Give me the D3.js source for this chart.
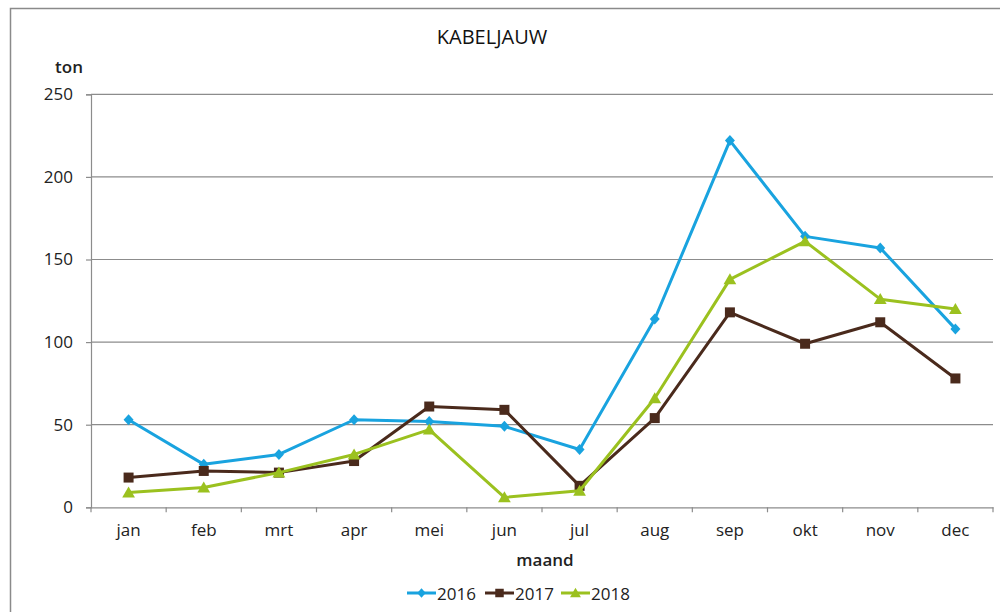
<!DOCTYPE html>
<html><head><meta charset="utf-8">
<script src="https://cdn.jsdelivr.net/npm/d3@7"></script>
<style>
html,body{margin:0;padding:0;background:#fff;}
svg{display:block;font-family:"Open Sans","Noto Sans",sans-serif;}
</style></head>
<body><svg id="c" width="1000" height="612"></svg>
<script>
const months = ["jan","feb","mrt","apr","mei","jun","jul","aug","sep","okt","nov","dec"];
const s2016 = [53,26,32,53,52,49,35,114,222,164,157,108];
const s2017 = [18,22,21,28,61,59,13,54,118,99,112,78];
const s2018 = [9,12,21,32,47,6,10,66,138,161,126,120];
const yTicks = [0,50,100,150,200,250];
const seriesNames = ["2016","2017","2018"];
const seriesColors = ["#19a3df","#4a2a1c","#9bc11f"];
const seriesShapes = ["diamond","square","triangle"];
const seriesData = [s2016,s2017,s2018];

const svg = d3.select("#c");
const L = 91, R = 993, T = 94.3, B = 507.3;

// frame
svg.append("path").attr("d",`M10.5,612 V8.5 H1000`).attr("fill","none").attr("stroke","#8a8a8a").attr("stroke-width",1.5);

const x = d3.scaleBand().domain(months).range([L,R]);
const y = d3.scaleLinear().domain([0,250]).range([B,T]);

// gridlines
svg.append("g").selectAll("line").data(yTicks.filter(d=>d>0)).join("line")
  .attr("x1",L).attr("x2",R).attr("y1",d=>y(d)).attr("y2",d=>y(d))
  .attr("stroke","#8c8c8c").attr("stroke-width",1.2);

// y axis
const ya = svg.append("g").attr("transform",`translate(${L},0)`)
  .call(d3.axisLeft(y).tickValues(yTicks).tickSize(5).tickPadding(13));
ya.select(".domain").attr("stroke","#8c8c8c").attr("stroke-width",1.2);
ya.selectAll(".tick line").attr("stroke","#8c8c8c").attr("stroke-width",1.2);
ya.selectAll("text").attr("font-size",17).attr("fill","#222").attr("font-family","Open Sans");

// x axis
const xa = svg.append("g").attr("transform",`translate(0,${B})`)
  .call(d3.axisBottom(x).tickSize(0).tickPadding(17));
xa.select(".domain").attr("stroke","#8c8c8c").attr("stroke-width",1.2);
xa.selectAll("text").attr("font-size",17).attr("fill","#222").attr("font-family","Open Sans");
// category boundary ticks
const bounds = months.map(m=>x(m)).concat([x(months[months.length-1])+x.bandwidth()]);
svg.append("g").selectAll("line").data(bounds).join("line")
  .attr("x1",d=>d).attr("x2",d=>d)
  .attr("y1",B).attr("y2",B+5).attr("stroke","#8c8c8c").attr("stroke-width",1.2);

const cx = m => x(m)+x.bandwidth()/2;

function symbolPath(shape, s){
  if(shape==="diamond") return `M0,${-s*0.55}L${s*0.5},0L0,${s*0.55}L${-s*0.5},0Z`;
  if(shape==="square") return `M${-s/2},${-s/2}h${s}v${s}h${-s}Z`;
  return `M0,${-s*0.55}L${s*0.58},${s*0.45}L${-s*0.58},${s*0.45}Z`;
}
const sizes = {diamond:10, square:10, triangle:11};

// lines
seriesData.forEach((data,si)=>{
  const line = d3.line().x((d,i)=>cx(months[i])).y(d=>y(d));
  svg.append("path").datum(data).attr("d",line).attr("fill","none")
    .attr("stroke",seriesColors[si]).attr("stroke-width",3).attr("stroke-linejoin","round");
  svg.append("g").selectAll("path").data(data).join("path")
    .attr("d",symbolPath(seriesShapes[si],sizes[seriesShapes[si]]))
    .attr("transform",(d,i)=>`translate(${cx(months[i])},${y(d)})`)
    .attr("fill",seriesColors[si]);
});

// title
svg.append("text").attr("x",492).attr("y",44).attr("text-anchor","middle")
  .attr("font-size",20).attr("fill","#111").attr("font-family","Open Sans").text("KABELJAUW");
svg.append("text").attr("x",69).attr("y",73).attr("text-anchor","middle")
  .attr("font-size",17).attr("font-weight",600).attr("fill","#222").attr("font-family","Open Sans").text("ton");
svg.append("text").attr("x",545).attr("y",566).attr("text-anchor","middle")
  .attr("font-size",17).attr("font-weight",600).attr("fill","#222").attr("font-family","Open Sans").text("maand");

// legend
const legX = [407,485,561];
seriesNames.forEach((n,i)=>{
  const g = svg.append("g").attr("transform",`translate(${legX[i]},593)`);
  g.append("line").attr("x1",0).attr("x2",29).attr("y1",0).attr("y2",0)
    .attr("stroke",seriesColors[i]).attr("stroke-width",3);
  g.append("path").attr("d",symbolPath(seriesShapes[i],sizes[seriesShapes[i]]*0.85))
    .attr("transform",`translate(14.5,0)`).attr("fill",seriesColors[i]);
  g.append("text").attr("x",30).attr("y",6.5).attr("font-size",17).attr("fill","#222")
    .attr("font-family","Open Sans").text(n);
});
</script></body></html>
